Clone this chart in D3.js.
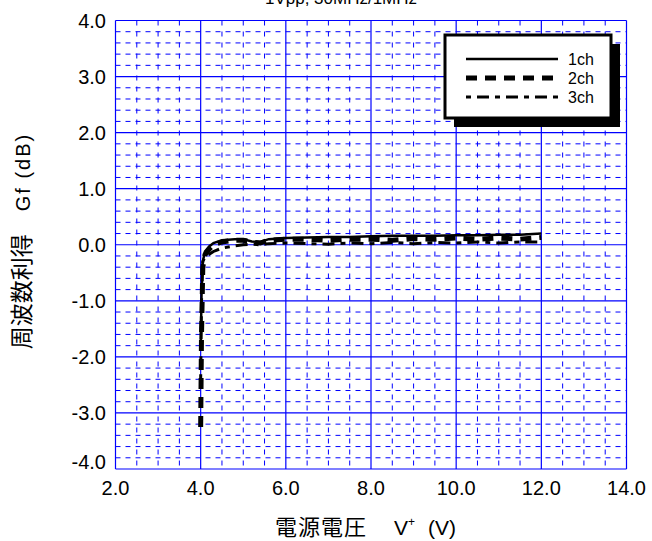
<!DOCTYPE html>
<html>
<head>
<meta charset="utf-8">
<script src="https://cdn.jsdelivr.net/npm/d3@7"></script>
<style>
  body { margin: 0; background: #fff; }
  text { font-family: Arial, "Liberation Sans", sans-serif; }
  .cjk { font-family: "Noto Sans CJK JP", sans-serif; }
</style>
</head>
<body>
<div id="chart"></div>
<script>
// supply voltage V+ (V)
const voltage = [4.0, 4.02, 4.05, 4.1, 4.2, 4.3, 4.5, 4.8, 5.0, 5.2, 5.4, 5.6, 6.0, 6.5, 7.0, 7.5, 8.0, 8.5, 9.0, 9.5, 10.0, 10.5, 11.0, 11.5, 12.0];
// frequency gain Gf (dB)
const gain1ch = [-1.85, -0.9, -0.3, -0.12, -0.03, 0.03, 0.08, 0.1, 0.1, 0.06, 0.05, 0.1, 0.12, 0.13, 0.14, 0.14, 0.15, 0.16, 0.16, 0.16, 0.17, 0.17, 0.18, 0.18, 0.2];
const gain2ch = [-3.25, -1.6, -0.4, -0.18, -0.08, 0.0, 0.05, 0.08, 0.08, 0.05, 0.03, 0.08, 0.1, 0.1, 0.08, 0.1, 0.1, 0.08, 0.11, 0.1, 0.12, 0.1, 0.12, 0.1, 0.13];
const gain3ch = [-2.4, -1.0, -0.3, -0.22, -0.17, -0.12, -0.06, -0.02, 0.0, 0.01, 0.0, 0.02, 0.03, 0.02, 0.01, 0.03, 0.02, 0.04, 0.02, 0.04, 0.03, 0.05, 0.03, 0.05, 0.05];
const seriesNames = ["1ch", "2ch", "3ch"];
const xTicks = [2, 4, 6, 8, 10, 12, 14];
const yTicks = [-4, -3, -2, -1, 0, 1, 2, 3, 4];

const width = 652, height = 541;
const svg = d3.select("#chart").append("svg")
  .attr("width", width).attr("height", height);

const x = d3.scaleLinear().domain([2, 14]).range([115.5, 626.5]);
const y = d3.scaleLinear().domain([-4, 4]).range([469, 20.5]);
const blue = "#0000ff";

// title (mostly cut off at the top, as in the original)
svg.append("text")
  .attr("x", 341).attr("y", 4)
  .attr("text-anchor", "middle")
  .attr("font-size", 17)
  .text("1Vpp, 30MHz/1MHz");

// minor grid
const grid = svg.append("g");
grid.selectAll(".vminor")
  .data(d3.range(2.5, 14, 0.5).filter(v => Math.abs(v % 2) > 1e-6))
  .enter().append("line")
  .attr("x1", d => x(d)).attr("x2", d => x(d))
  .attr("y1", y(4)).attr("y2", y(-4))
  .attr("stroke", blue).attr("stroke-width", 1)
  .attr("stroke-dasharray", "5,6");
grid.selectAll(".hminor")
  .data(d3.range(-3.8, 4, 0.2).filter(v => Math.abs(v - Math.round(v)) > 1e-6))
  .enter().append("line")
  .attr("x1", x(2)).attr("x2", x(14))
  .attr("y1", d => y(d)).attr("y2", d => y(d))
  .attr("stroke", blue).attr("stroke-width", 1)
  .attr("stroke-dasharray", "5,5");

// major grid
grid.selectAll(".vmajor")
  .data(xTicks).enter().append("line")
  .attr("x1", d => x(d)).attr("x2", d => x(d))
  .attr("y1", y(4)).attr("y2", y(-4))
  .attr("stroke", blue).attr("stroke-width", 1.2);
grid.selectAll(".hmajor")
  .data(yTicks).enter().append("line")
  .attr("x1", x(2)).attr("x2", x(14))
  .attr("y1", d => y(d)).attr("y2", d => y(d))
  .attr("stroke", blue).attr("stroke-width", 1.2);

// tick labels
svg.selectAll(".xlab")
  .data(xTicks).enter().append("text")
  .attr("x", d => x(d)).attr("y", 495)
  .attr("text-anchor", "middle")
  .attr("font-size", 20)
  .text(d => d.toFixed(1));
svg.selectAll(".ylab")
  .data(yTicks).enter().append("text")
  .attr("x", 106)
  .attr("y", d => d === -4 ? y(d) : y(d) + 7)
  .attr("text-anchor", "end")
  .attr("font-size", 20)
  .text(d => d.toFixed(1));

// axis titles
svg.append("text")
  .attr("class", "cjk")
  .attr("x", 275).attr("y", 535)
  .attr("font-size", 22)
  .attr("letter-spacing", 1)
  .text("電源電圧");
const xv = svg.append("text")
  .attr("x", 394).attr("y", 535)
  .attr("font-size", 21);
xv.append("tspan").text("V");
xv.append("tspan").attr("font-size", 12).attr("dy", -9).text("+");
svg.append("text")
  .attr("x", 428).attr("y", 535)
  .attr("font-size", 21)
  .text("(V)");

svg.append("text")
  .attr("transform", "translate(30,241) rotate(-90)")
  .attr("text-anchor", "middle")
  .attr("font-size", 20)
  .html('<tspan class="cjk" font-size="23">周波数利得　</tspan><tspan letter-spacing="2">Gf (dB)</tspan>');

// curves
const series = [
  { name: "1ch", values: gain1ch, width: 2.5, dash: null },
  { name: "2ch", values: gain2ch, width: 5, dash: "11,8" },
  { name: "3ch", values: gain3ch, width: 3, dash: "5,6,12,6" }
];
const line = d3.line().x(d => x(d[0])).y(d => y(d[1]));
svg.selectAll(".curve")
  .data(series).enter().append("path")
  .attr("d", s => line(voltage.map((v, i) => [v, s.values[i]])))
  .attr("fill", "none")
  .attr("stroke", "#000")
  .attr("stroke-width", s => s.width)
  .attr("stroke-dasharray", s => s.dash);

// legend
const lg = svg.append("g");
lg.append("rect")
  .attr("x", 454).attr("y", 44).attr("width", 166).attr("height", 83)
  .attr("fill", "#000");
lg.append("rect")
  .attr("x", 445).attr("y", 35).attr("width", 166).attr("height", 83)
  .attr("fill", "#fff").attr("stroke", "#000").attr("stroke-width", 3);
series.forEach((s, i) => {
  const ly = 59 + i * 19;
  lg.append("line")
    .attr("x1", 466).attr("x2", 558).attr("y1", ly).attr("y2", ly)
    .attr("stroke", "#000").attr("stroke-width", s.width)
    .attr("stroke-dasharray", s.dash);
  lg.append("text")
    .attr("x", 568).attr("y", ly + 6)
    .attr("font-size", 16)
    .text(seriesNames[i]);
});
</script>
</body>
</html>
